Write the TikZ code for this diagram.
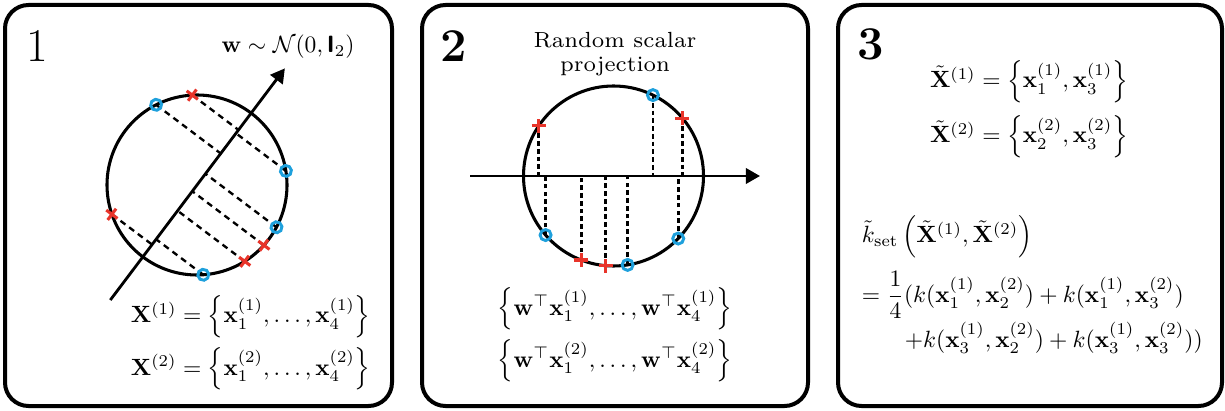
\documentclass[tikz,border=0pt]{standalone}
\usepackage{amsmath, amssymb}
\usepackage{graphicx}
\usepackage{tikz}
\usetikzlibrary{arrows.meta}
\definecolor{ptblue}{RGB}{30,160,220}
\definecolor{ptred}{RGB}{232,52,42}

\begin{document}
\begin{tikzpicture}[x=0.425pt, y=0.425pt, >={Triangle[length=6pt, width=6.5pt]},
  panel/.style={line width=1.7pt, rounded corners=10pt},
  axisline/.style={->, line width=1.2pt},
  projone/.style={line width=1pt, dash pattern=on 2.6pt off 2pt},
  projtwo/.style={line width=1.2pt, dash pattern=on 2pt off 1.3pt},
  redmark/.style={ptred, line width=1.3pt},
  bluemark/.style={ptblue, line width=1.25pt},
  formula/.style={inner sep=1pt},
  num/.style={font=\fontsize{20}{20}\selectfont, inner sep=0pt, anchor=base}]
  \useasboundingbox (0,0) rectangle (1225,410);

  % the three panels
  \draw[panel] (5,4) rectangle (392,405);
  \draw[panel] (422,4) rectangle (808,405);
  \draw[panel] (838,4) rectangle (1222,405);

  % panel 1: points and a random direction
  \node[num] (num1) at (37,348) {1};
  \node[anchor=base] (wdist) at (288,357) {$\mathbf{w} \sim \mathcal{N}(0, \text{\sffamily\bfseries I}_2)$};
  \begin{scope}[shift={(197,225)}, rotate=53]
    \draw[line width=1.3pt] (0,0) circle (90);
    \coordinate (onestart) at (-144,0);
    \coordinate (oneend) at (146,0);
    \draw[axisline] (onestart) -- (oneend);
    \foreach \a [count=\i] in {146,40,-111,-95} {
      \coordinate (oner\i) at (\a:90);
      \coordinate (onerp\i) at ({90*cos(\a)},0);
      \draw[projone] (oner\i) -- (onerp\i);
      \draw[redmark] (oner\i) ++(-7,0) -- ++(14,0) (oner\i) ++(0,-7) -- ++(0,14);
    }
    \foreach \a [count=\i] in {64,-139,-81,-44} {
      \coordinate (oneb\i) at (\a:90);
      \coordinate (onebp\i) at ({90*cos(\a)},0);
      \draw[projone] (oneb\i) -- (onebp\i);
      \draw[bluemark] (oneb\i) circle (5.5);
    }
  \end{scope}
  \node[formula, anchor=base west] (Xone) at (128,87)
    {$\mathbf{X}^{(1)} = \left\{\mathbf{x}_1^{(1)}, \ldots, \mathbf{x}_4^{(1)}\right\}$};
  \node[formula, anchor=base west] (Xtwo) at (128,35)
    {$\mathbf{X}^{(2)} = \left\{\mathbf{x}_1^{(2)}, \ldots, \mathbf{x}_4^{(2)}\right\}$};

  % panel 2: scalar projection
  \node[num, font=\fontsize{20}{20}\selectfont\bfseries] (num2) at (454,348) {2};
  \node[inner sep=0pt] (title2) at (615,355)
    {\scalebox{1.33}{\fontsize{7}{7.7}\selectfont\begin{tabular}{@{}c@{}}Random scalar\\projection\end{tabular}}};
  \begin{scope}[shift={(613.5,234)}]
    \draw[line width=1.3pt] (0,0) circle (90);
    \coordinate (twostart) at (-143.5,0);
    \coordinate (twoend) at (146.5,0);
    \draw[axisline] (twostart) -- (twoend);
    \foreach \a [count=\i] in {146,40,-111,-95} {
      \coordinate (twor\i) at (\a:90);
      \coordinate (tworp\i) at ({90*cos(\a)},0);
      \draw[projtwo] (twor\i) -- (tworp\i);
      \draw[redmark] (twor\i) ++(-7,0) -- ++(14,0) (twor\i) ++(0,-7) -- ++(0,14);
    }
    \foreach \a [count=\i] in {64,-139,-81,-44} {
      \coordinate (twob\i) at (\a:90);
      \coordinate (twobp\i) at ({90*cos(\a)},0);
      \draw[projtwo] (twob\i) -- (twobp\i);
      \draw[bluemark] (twob\i) circle (5.5);
    }
  \end{scope}
  \node[formula, anchor=base] (wxone) at (615,95)
    {$\left\{\mathbf{w}^\top\mathbf{x}_1^{(1)}, \ldots, \mathbf{w}^\top\mathbf{x}_4^{(1)}\right\}$};
  \node[formula, anchor=base] (wxtwo) at (615,43)
    {$\left\{\mathbf{w}^\top\mathbf{x}_1^{(2)}, \ldots, \mathbf{w}^\top\mathbf{x}_4^{(2)}\right\}$};

  % panel 3: subsets and kernel
  \node[num, font=\fontsize{20}{20}\selectfont\bfseries] (num3) at (871,350) {3};
  \node[formula, anchor=base] (Xtone) at (1029,322)
    {$\tilde{\mathbf{X}}^{(1)} = \left\{\mathbf{x}_1^{(1)}, \mathbf{x}_3^{(1)}\right\}$};
  \node[formula, anchor=base] (Xttwo) at (1029,267)
    {$\tilde{\mathbf{X}}^{(2)} = \left\{\mathbf{x}_2^{(2)}, \mathbf{x}_3^{(2)}\right\}$};
  \node[formula, anchor=base west] (kset) at (859,167)
    {$\tilde{k}_{\text{set}}\left(\tilde{\mathbf{X}}^{(1)}, \tilde{\mathbf{X}}^{(2)}\right)$};
  \node[formula, anchor=base west] (ksetone) at (859,108)
    {$= \dfrac{1}{4}(k(\mathbf{x}_1^{(1)}, \mathbf{x}_2^{(2)}) + k(\mathbf{x}_1^{(1)}, \mathbf{x}_3^{(2)})$};
  \node[formula, anchor=base west] (ksettwo) at (902,63)
    {$+k(\mathbf{x}_3^{(1)}, \mathbf{x}_2^{(2)}) + k(\mathbf{x}_3^{(1)}, \mathbf{x}_3^{(2)}))$};
\end{tikzpicture}
\end{document}
